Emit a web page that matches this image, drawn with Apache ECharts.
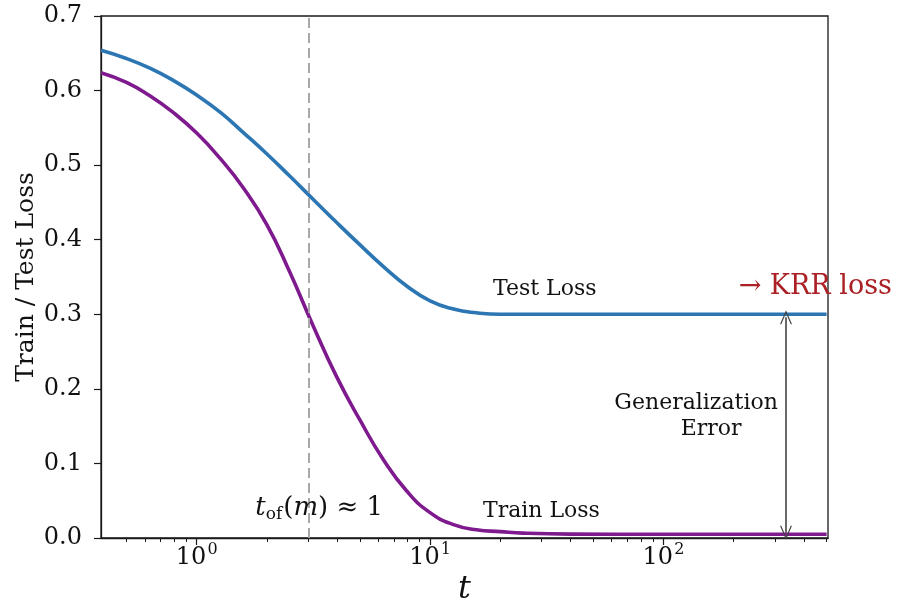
<!DOCTYPE html>
<html>
<head>
<meta charset="utf-8">
<script src="https://cdn.jsdelivr.net/npm/echarts@6/dist/echarts.min.js"></script>
<style>
  html, body { margin: 0; padding: 0; background: #fff; }
  #chart { width: 897px; height: 613px; }
</style>
</head>
<body>
<div id="chart"></div>
<script>
// Training time t (log scale) and the two loss curves
const tValues   = [0.389, 0.5, 0.63, 0.79, 1.0, 1.26, 1.58, 2.0, 2.51, 3.16, 3.98, 5.01, 6.31, 7.94, 10, 12.6, 15.8, 20, 25, 40, 100, 500];
const testLoss  = [0.654, 0.643, 0.630, 0.614, 0.594, 0.571, 0.544, 0.515, 0.485, 0.454, 0.423, 0.393, 0.364, 0.338, 0.318, 0.307, 0.302, 0.300, 0.300, 0.300, 0.300, 0.300];
const trainLoss = [0.624, 0.611, 0.593, 0.571, 0.543, 0.509, 0.470, 0.420, 0.356, 0.284, 0.216, 0.158, 0.105, 0.063, 0.034, 0.018, 0.011, 0.0085, 0.0065, 0.0052, 0.005, 0.005];

// Axis ranges and ticks (t in powers of ten)
const tMin = 0.389, tMax = 507;
const majorDecades = [0, 1, 2];
const minorTickT = [0.5, 0.6, 0.7, 0.8, 0.9, 2, 3, 4, 5, 6, 7, 8, 9, 20, 30, 40, 50, 60, 70, 80, 90, 200, 300, 400, 500];

// Reference markers
const tOverfit = 3;          // dashed vertical line
const krrLoss = 0.300;       // test-loss plateau
const trainFloor = 0.005;    // train-loss plateau
const gapT = 335;            // where the generalization-error arrow sits

const SERIF = '"DejaVu Serif", "Liberation Serif", serif';
const lg = Math.log10;
const toPts = (ys) => tValues.map((t, i) => [lg(t), ys[i]]);

const chart = echarts.init(document.getElementById('chart'), null, { renderer: 'canvas' });

const baseX = {
  type: 'value',
  min: lg(tMin),
  max: lg(tMax),
  position: 'bottom',
  splitLine: { show: false },
  gridIndex: 0
};

// open chevron arrowhead, tip at the top
const chevron = 'path://M6,0 L12,13 L10.7,13 L6,2.8 L1.3,13 L0,13 Z';

const option = {
  animation: false,
  backgroundColor: '#ffffff',
  grid: {
    left: 101, right: 69, top: 16, bottom: 75,
    containLabel: false,
    outerBoundsMode: 'none',
    show: true, borderColor: '#1a1a1a', borderWidth: 1.3, backgroundColor: 'transparent'
  },
  xAxis: [
    Object.assign({}, baseX, {
      name: 't',
      nameLocation: 'middle',
      nameGap: 36,
      nameMoveOverlap: false,
      nameTextStyle: { fontFamily: SERIF, fontStyle: 'italic', fontSize: 32, color: '#111' },
      axisLine: { show: true, onZero: false, lineStyle: { color: '#1a1a1a', width: 1.3 } },
      axisTick: { show: true, inside: false, length: 7, customValues: majorDecades, lineStyle: { color: '#1a1a1a', width: 1.2 } },
      axisLabel: {
        customValues: majorDecades,
        margin: 4,
        formatter: (v) => '{b|10}{s|' + Math.round(v) + '}',
        rich: {
          b: { fontFamily: SERIF, fontSize: 24, color: '#111', lineHeight: 28, verticalAlign: 'bottom' },
          s: { fontFamily: SERIF, fontSize: 16, color: '#111', lineHeight: 28, verticalAlign: 'top', padding: [0, 0, 13, 1] }
        }
      }
    }),
    Object.assign({}, baseX, {
      axisLine: { show: false, onZero: false },
      axisTick: { show: true, inside: false, length: 4, customValues: minorTickT.map(lg), lineStyle: { color: '#1a1a1a', width: 1 } },
      axisLabel: { show: false }
    })
  ],
  yAxis: {
    type: 'value',
    min: 0, max: 0.7, interval: 0.1,
    name: 'Train / Test Loss',
    nameLocation: 'middle',
    nameGap: 62,
    nameMoveOverlap: false,
    nameTextStyle: { fontFamily: SERIF, fontSize: 25, color: '#111' },
    splitLine: { show: false },
    axisLine: { show: true, onZero: false, lineStyle: { color: '#1a1a1a', width: 1.3 } },
    axisTick: { show: true, inside: false, length: 7, lineStyle: { color: '#1a1a1a', width: 1.2 } },
    axisLabel: {
      margin: 19,
      fontFamily: SERIF, fontSize: 24, color: '#111',
      formatter: (v) => v.toFixed(1)
    }
  },
  series: [
    {
      name: 'Test Loss',
      type: 'line',
      data: toPts(testLoss),
      smooth: 0.5,
      showSymbol: false,
      lineStyle: { color: '#2c77b3', width: 3.6 },
      z: 3,
      markLine: {
        silent: true,
        symbol: ['none', 'none'],
        label: { show: false },
        lineStyle: { color: '#a8a8a8', type: [10, 5], width: 2 },
        data: [{ xAxis: lg(tOverfit) }]
      }
    },
    {
      name: 'Train Loss',
      type: 'line',
      data: toPts(trainLoss),
      smooth: 0.5,
      showSymbol: false,
      lineStyle: { color: '#7e1a8e', width: 3.6 },
      z: 3
    },
    {
      name: 'gap',
      type: 'line',
      data: [],
      markLine: {
        silent: true,
        symbol: [chevron, chevron],
        symbolSize: [12, 14],
        label: { show: false },
        lineStyle: { color: '#444', type: 'solid', width: 1.6 },
        data: [[{ coord: [lg(gapT), krrLoss - 0.004] }, { coord: [lg(gapT), trainFloor + 0.002] }]]
      }
    }
  ]
};

chart.setOption(option);

// Text annotations placed at data positions
const px = (t, y) => chart.convertToPixel({ gridIndex: 0 }, [lg(t), y]);
const txt = (t, y, style, extra) => {
  const p = px(t, y);
  return Object.assign({ type: 'text', x: p[0], y: p[1], style: style, z: 10 }, extra || {});
};

chart.setOption({
  graphic: [
    txt(31, 0.334, { text: 'Test Loss', font: '22px ' + SERIF, fill: '#111', align: 'center', verticalAlign: 'middle' }),
    txt(210, 0.336, { text: '\u2192 KRR loss', font: '27px ' + SERIF, fill: '#aa2024', align: 'left', verticalAlign: 'middle' }, { z: 0 }),
    txt(30, 0.036, { text: 'Train Loss', font: '22px ' + SERIF, fill: '#111', align: 'center', verticalAlign: 'middle' }),
    txt(138, 0.180, { text: 'Generalization', font: '22px ' + SERIF, fill: '#111', align: 'center', verticalAlign: 'middle' }),
    txt(160, 0.146, { text: 'Error', font: '22px ' + SERIF, fill: '#111', align: 'center', verticalAlign: 'middle' }),
    txt(3.35, 0.040, {
      text: '{i|t}{sub|of}{n|(}{i|m}{n|) \u2248 1}',
      align: 'center', verticalAlign: 'middle',
      rich: {
        i: { font: 'italic 26px ' + SERIF, fill: '#111' },
        n: { font: '26px ' + SERIF, fill: '#111' },
        sub: { font: '17px ' + SERIF, fill: '#111', padding: [12, 1, 0, 0] }
      }
    })
  ]
});
</script>
</body>
</html>
